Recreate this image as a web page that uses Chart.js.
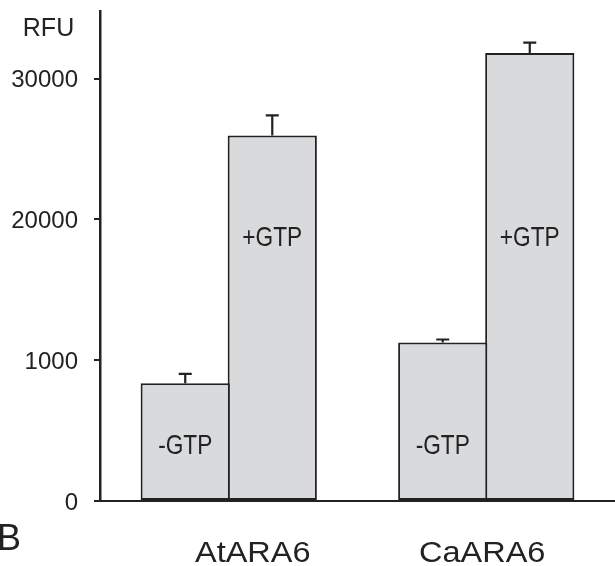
<!DOCTYPE html>
<html>
<head>
<meta charset="utf-8">
<title>RFU</title>
<script src="https://cdn.jsdelivr.net/npm/chart.js@4.4.1/dist/chart.umd.min.js"></script>
<style>
  html, body { margin: 0; padding: 0; background: #fff; }
  canvas { display: block; }
</style>
</head>
<body>
<canvas id="chart" width="615" height="566"></canvas>
<script>
const categories = ['AtARA6', 'CaARA6'];
const minusGtp = [8370, 11250];
const plusGtp = [25950, 31820];
const minusGtpErr = [660, 220];
const plusGtpErr = [1440, 740];
const barLabels = ['-GTP', '+GTP'];
const tickValues = [0, 10000, 20000, 30000];
const tickLabels = ['0', '1000', '20000', '30000'];

const ink = '#222';
const barFill = '#d9dadc';
const fontFamily = "'Liberation Sans', Arial, sans-serif";

// error bars on top of each bar
const errorBars = {
  id: 'errorBars',
  afterDatasetsDraw(chart) {
    const { ctx } = chart;
    const yScale = chart.scales.y;
    const errs = [minusGtpErr, plusGtpErr];
    ctx.save();
    ctx.strokeStyle = ink;
    ctx.lineWidth = 2.2;
    chart.data.datasets.forEach((ds, di) => {
      chart.getDatasetMeta(di).data.forEach((bar, i) => {
        const top = yScale.getPixelForValue(ds.data[i] + errs[di][i]);
        ctx.beginPath();
        ctx.moveTo(bar.x, bar.y);
        ctx.lineTo(bar.x, top);
        ctx.moveTo(bar.x - 6.5, top);
        ctx.lineTo(bar.x + 6.5, top);
        ctx.stroke();
      });
    });
    ctx.restore();
  },
};

// texts: labels in the bars, category names, axis title and panel letter
const texts = {
  id: 'texts',
  afterDraw(chart) {
    const { ctx } = chart;
    const yScale = chart.scales.y;
    const xScale = chart.scales.x;
    const labelAt = [3370, 18100];
    const catShift = [24, -4];

    ctx.save();
    ctx.fillStyle = ink;
    ctx.textAlign = 'center';
    ctx.textBaseline = 'alphabetic';

    chart.data.datasets.forEach((ds, di) => {
      const y = yScale.getPixelForValue(labelAt[di]);
      chart.getDatasetMeta(di).data.forEach((bar) => {
        ctx.save();
        ctx.translate(bar.x, y);
        ctx.scale(0.81, 1);
        ctx.font = `28px ${fontFamily}`;
        ctx.fillText(barLabels[di], 0, 0);
        ctx.restore();
      });
    });

    categories.forEach((name, i) => {
      ctx.save();
      ctx.translate(xScale.getPixelForValue(i) + catShift[i], 562);
      ctx.scale(1.12, 1);
      ctx.font = `29px ${fontFamily}`;
      ctx.fillText(name, 0, 0);
      ctx.restore();
    });

    ctx.font = `25px ${fontFamily}`;
    ctx.fillText('RFU', 48.5, 36);

    ctx.textAlign = 'left';
    ctx.font = `36px ${fontFamily}`;
    ctx.fillText('B', -3, 550);
    ctx.restore();
  },
};

const barStyle = {
  backgroundColor: barFill,
  borderColor: ink,
  borderWidth: 2,
  borderSkipped: false,
  categoryPercentage: 0.676,
  barPercentage: 1.025,
};

new Chart(document.getElementById('chart'), {
  type: 'bar',
  data: {
    labels: categories,
    datasets: [
      { label: barLabels[0], data: minusGtp, ...barStyle },
      { label: barLabels[1], data: plusGtp, ...barStyle },
    ],
  },
  options: {
    responsive: false,
    animation: false,
    layout: { padding: { top: 11, right: 0, bottom: 0, left: 0 } },
    plugins: {
      legend: { display: false },
      tooltip: { enabled: false },
    },
    scales: {
      x: {
        offset: true,
        grid: { display: false },
        ticks: { display: false },
        border: { display: true, color: ink, width: 2 },
        afterFit(scale) {
          scale.height = 65;
          scale.paddingLeft = 0;
          scale.paddingRight = 0;
        },
      },
      y: {
        min: 0,
        max: 34800,
        afterBuildTicks(scale) {
          scale.ticks = tickValues.map((value) => ({ value }));
        },
        grid: {
          drawOnChartArea: false,
          drawTicks: true,
          tickLength: 6,
          color: ink,
          lineWidth: 2,
        },
        border: { display: true, color: ink, width: 2.5 },
        ticks: {
          padding: 16,
          labelOffset: 2,
          color: ink,
          font: { family: fontFamily, size: 24 },
          callback: (value) => tickLabels[tickValues.indexOf(value)],
        },
        afterFit(scale) {
          scale.width = 100;
          scale.paddingTop = 0;
          scale.paddingBottom = 0;
        },
      },
    },
  },
  plugins: [errorBars, texts],
});
</script>
</body>
</html>
